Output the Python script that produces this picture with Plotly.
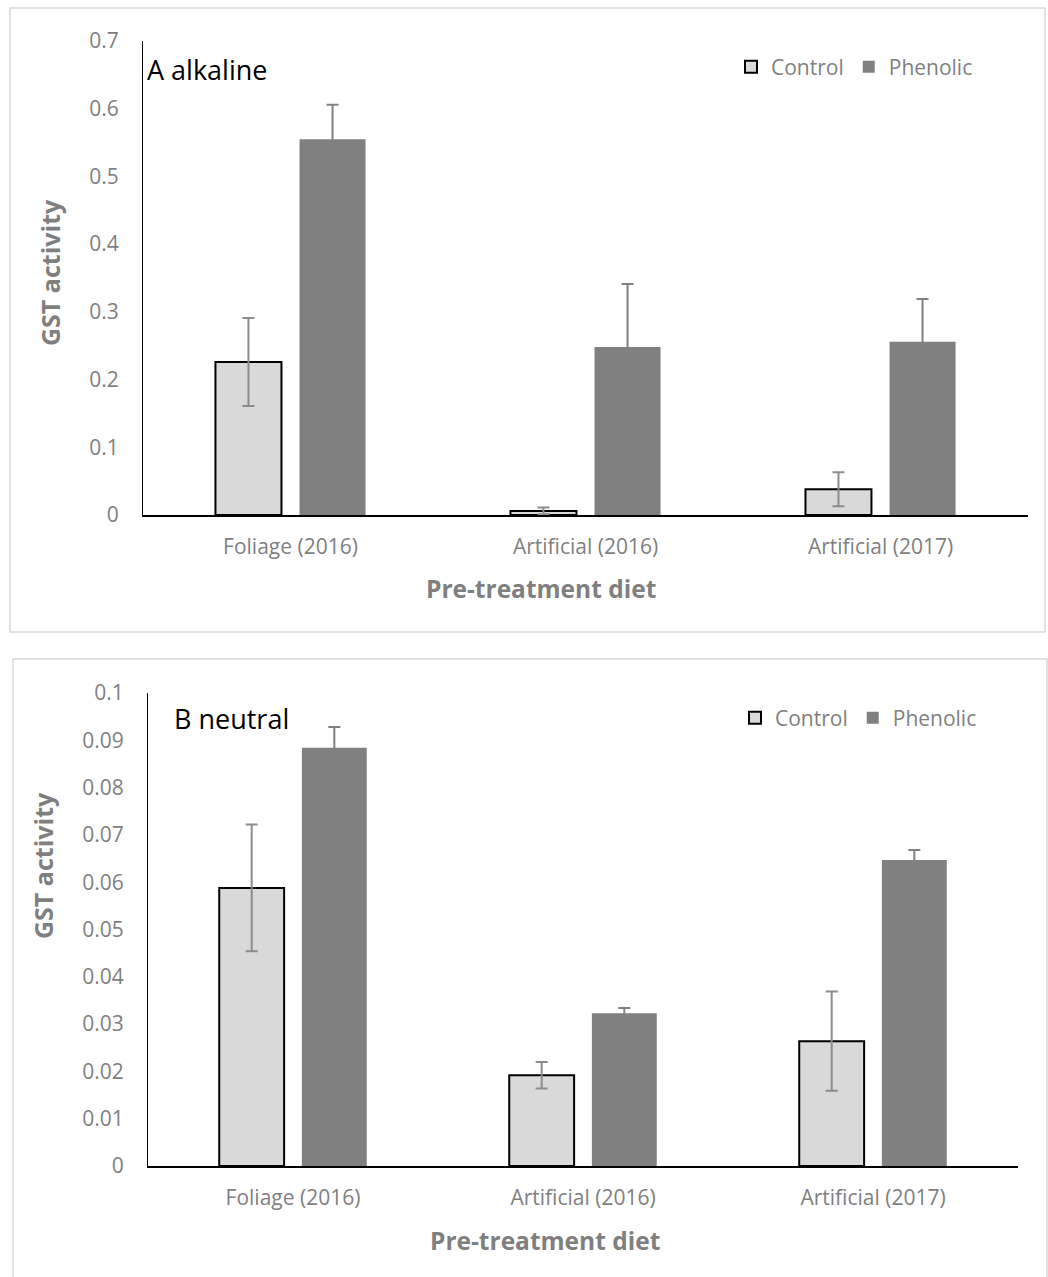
import plotly.graph_objects as go

categories = ["Foliage (2016)", "Artificial (2016)", "Artificial (2017)"]

# Panel A (alkaline)
a_control = [0.226, 0.006, 0.038]
a_control_err = [0.065, 0.005, 0.025]
a_phenolic = [0.555, 0.248, 0.256]
a_phenolic_err = [0.051, 0.093, 0.063]
a_ticks = [0, 0.1, 0.2, 0.3, 0.4, 0.5, 0.6, 0.7]
a_ticktext = ["0", "0.1", "0.2", "0.3", "0.4", "0.5", "0.6", "0.7"]

# Panel B (neutral)
b_control = [0.0588, 0.0192, 0.0264]
b_control_err = [0.0134, 0.0028, 0.0105]
b_phenolic = [0.0884, 0.0323, 0.0647]
b_phenolic_err = [0.0044, 0.0011, 0.0021]
b_ticks = [0, 0.01, 0.02, 0.03, 0.04, 0.05, 0.06, 0.07, 0.08, 0.09, 0.1]
b_ticktext = ["0", "0.01", "0.02", "0.03", "0.04", "0.05", "0.06", "0.07", "0.08", "0.09", "0.1"]

W, H = 1048, 1277
FONT = "Open Sans"
GRAY = "#7f7f7f"
CTRL = "#d9d9d9"
PHEN = "#808080"

def px(x):
    return x / W

def py(y):
    return 1 - y / H

fig = go.Figure()

def add_pair(ctrl, ctrl_err, phen, phen_err, xa, ya, legend):
    fig.add_trace(go.Bar(
        x=categories, y=ctrl, name="Control", xaxis=xa, yaxis=ya, legend=legend,
        marker=dict(color=CTRL, line=dict(color="black", width=2)),
        error_y=dict(type="data", array=ctrl_err, color="#8c8c8c", thickness=2, width=6),
    ))
    fig.add_trace(go.Bar(
        x=categories, y=phen, name="Phenolic", xaxis=xa, yaxis=ya, legend=legend,
        marker=dict(color=PHEN, line=dict(width=0)),
        error_y=dict(type="data", array=phen_err, color="#808080", thickness=2, width=6),
    ))

add_pair(a_control, a_control_err, a_phenolic, a_phenolic_err, "x", "y", "legend")
add_pair(b_control, b_control_err, b_phenolic, b_phenolic_err, "x2", "y2", "legend2")

tickfont = dict(family=FONT, size=21, color=GRAY)
xcommon = dict(showline=True, linecolor="black", linewidth=1.5, showgrid=False,
               ticks="", tickfont=tickfont, ticklabelstandoff=12, zeroline=False,
               fixedrange=True, automargin=False)
ycommon = dict(showline=True, linecolor="black", linewidth=1, showgrid=False,
               ticks="", tickfont=tickfont, ticklabelstandoff=19, zeroline=False,
               automargin=False)

fig.update_layout(
    width=W, height=H, autosize=False,
    margin=dict(l=0, r=0, t=0, b=0, pad=0),
    paper_bgcolor="white", plot_bgcolor="white",
    barmode="group", bargap=0.43, bargroupgap=0.215,
    font=dict(family=FONT, color=GRAY),
    xaxis=dict(domain=[px(143), px(1028)], anchor="y", **xcommon),
    yaxis=dict(domain=[py(515), py(41)], anchor="x", range=[0, 0.7],
               tickvals=a_ticks, ticktext=a_ticktext, **ycommon),
    xaxis2=dict(domain=[px(148), px(1018)], anchor="y2", **xcommon),
    yaxis2=dict(domain=[py(1166), py(693)], anchor="x2", range=[0, 0.1],
                tickvals=b_ticks, ticktext=b_ticktext, **ycommon),
    legend=dict(orientation="h", x=px(731), y=py(67), xanchor="left", yanchor="middle",
                font=dict(family=FONT, size=21, color=GRAY), bgcolor="rgba(0,0,0,0)",
                itemwidth=30, traceorder="normal"),
    legend2=dict(orientation="h", x=px(735), y=py(718), xanchor="left", yanchor="middle",
                 font=dict(family=FONT, size=21, color=GRAY), bgcolor="rgba(0,0,0,0)",
                 itemwidth=30, traceorder="normal"),
    showlegend=True,
)

# panel frames
fig.add_shape(type="rect", xref="paper", yref="paper",
              x0=px(10), x1=px(1045), y0=py(632), y1=py(8),
              line=dict(color="#d9d9d9", width=1.5), layer="below")
fig.add_shape(type="rect", xref="paper", yref="paper",
              x0=px(13), x1=px(1047), y0=py(1290), y1=py(659),
              line=dict(color="#d9d9d9", width=1.5), layer="below")

ann = []
ann.append(dict(text="A alkaline", x=px(145), y=py(70), xref="paper", yref="paper",
                xanchor="left", yanchor="middle", showarrow=False,
                font=dict(family=FONT, size=27, color="black")))
ann.append(dict(text="B neutral", x=px(172), y=py(718), xref="paper", yref="paper",
                xanchor="left", yanchor="middle", showarrow=False,
                font=dict(family=FONT, size=27, color="black")))
ann.append(dict(text="<b>GST activity</b>", x=px(50), y=py(273), xref="paper", yref="paper",
                xanchor="center", yanchor="middle", showarrow=False, textangle=-90,
                font=dict(family=FONT, size=25, color=GRAY)))
ann.append(dict(text="<b>GST activity</b>", x=px(43), y=py(866), xref="paper", yref="paper",
                xanchor="center", yanchor="middle", showarrow=False, textangle=-90,
                font=dict(family=FONT, size=25, color=GRAY)))
ann.append(dict(text="<b>Pre-treatment diet</b>", x=px(541), y=py(588), xref="paper", yref="paper",
                xanchor="center", yanchor="middle", showarrow=False,
                font=dict(family=FONT, size=24.5, color=GRAY)))
ann.append(dict(text="<b>Pre-treatment diet</b>", x=px(545), y=py(1240), xref="paper", yref="paper",
                xanchor="center", yanchor="middle", showarrow=False,
                font=dict(family=FONT, size=24.5, color=GRAY)))
fig.update_layout(annotations=ann)

post = ("document.body.style.margin='0';document.body.style.overflow='hidden';"
        "var d=document.getElementById('{plot_id}');"
        "d.style.position='absolute';d.style.top='0px';d.style.left='0px';")
fig.write_html("out.html", post_script=post, config={"displayModeBar": False})
